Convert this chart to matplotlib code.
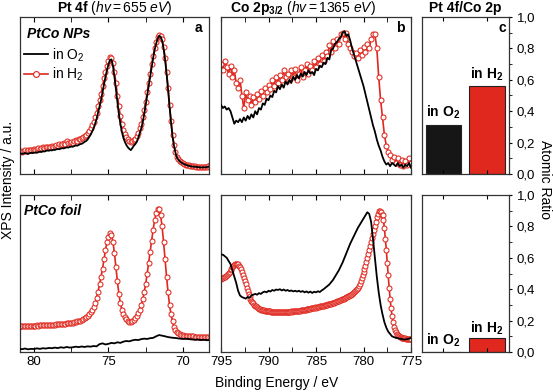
import numpy as np
import matplotlib
matplotlib.use('Agg')
import matplotlib.pyplot as plt
from matplotlib.ticker import MultipleLocator, FuncFormatter
from matplotlib.lines import Line2D

plt.rcParams['font.family'] = ['Liberation Sans', 'DejaVu Sans']
plt.rcParams['mathtext.fontset'] = 'custom'
plt.rcParams['mathtext.rm'] = 'Liberation Sans'
plt.rcParams['mathtext.it'] = 'Liberation Sans:italic'
plt.rcParams['mathtext.bf'] = 'Liberation Sans:bold'

# binding energy grids (eV)
be_pt = np.round(np.linspace(81.0, 68.2, 129), 2)
be_pt_coarse = np.round(np.linspace(81.0, 68.2, 65), 2)
be_co = np.round(np.linspace(795.0, 775.0, 101), 2)
be_co_fine = np.round(np.linspace(795.0, 775.0, 201), 2)

# Pt 4f, PtCo NPs (normalised intensity)
pt_nps_o2 = [
    0.13, 0.132, 0.128, 0.13, 0.134, 0.13, 0.128, 0.132, 0.135, 0.133,
    0.136, 0.138, 0.135, 0.14, 0.142, 0.14, 0.145, 0.143, 0.147, 0.15,
    0.148, 0.152, 0.15, 0.155, 0.153, 0.157, 0.16, 0.158, 0.162, 0.165,
    0.163, 0.167, 0.17, 0.168, 0.172, 0.175, 0.173, 0.178, 0.182, 0.18,
    0.185, 0.19, 0.192, 0.198, 0.205, 0.21, 0.22, 0.235, 0.25, 0.27,
    0.29, 0.32, 0.35, 0.39, 0.43, 0.47, 0.52, 0.57, 0.62, 0.66,
    0.7, 0.725, 0.73, 0.69, 0.62, 0.54, 0.46, 0.38, 0.32, 0.27,
    0.23, 0.205, 0.185, 0.17, 0.16, 0.152, 0.165, 0.18, 0.19, 0.205,
    0.23, 0.26, 0.29, 0.33, 0.38, 0.44, 0.5, 0.56, 0.62, 0.68,
    0.74, 0.79, 0.83, 0.86, 0.88, 0.875, 0.85, 0.8, 0.73, 0.64,
    0.54, 0.43, 0.33, 0.24, 0.18, 0.135, 0.105, 0.09, 0.08, 0.072,
    0.067, 0.062, 0.058, 0.055, 0.052, 0.05, 0.048, 0.047, 0.046, 0.045,
    0.044, 0.043, 0.042, 0.042, 0.043, 0.042, 0.044, 0.046, 0.05]
pt_nps_h2 = [
    0.14, 0.145, 0.14, 0.145, 0.15, 0.145, 0.15, 0.155, 0.15, 0.155,
    0.16, 0.155, 0.16, 0.165, 0.16, 0.165, 0.17, 0.165, 0.17, 0.175,
    0.17, 0.175, 0.18, 0.175, 0.18, 0.185, 0.18, 0.19, 0.185, 0.19,
    0.195, 0.19, 0.21, 0.195, 0.2, 0.205, 0.2, 0.21, 0.215, 0.21,
    0.22, 0.225, 0.23, 0.235, 0.24, 0.25, 0.26, 0.275, 0.29, 0.31,
    0.33, 0.36, 0.39, 0.43, 0.47, 0.51, 0.56, 0.61, 0.65, 0.69,
    0.72, 0.745, 0.74, 0.71, 0.65, 0.58, 0.5, 0.43, 0.37, 0.32,
    0.28, 0.255, 0.235, 0.22, 0.21, 0.205, 0.21, 0.215, 0.225, 0.24,
    0.26, 0.29, 0.32, 0.36, 0.41, 0.46, 0.52, 0.58, 0.64, 0.7,
    0.75, 0.8, 0.84, 0.87, 0.885, 0.88, 0.86, 0.81, 0.74, 0.65,
    0.55, 0.44, 0.34, 0.25, 0.185, 0.14, 0.11, 0.095, 0.085, 0.075,
    0.07, 0.065, 0.06, 0.058, 0.055, 0.052, 0.05, 0.05, 0.048, 0.047,
    0.045, 0.045, 0.044, 0.043, 0.045, 0.044, 0.046, 0.05, 0.06]

# Pt 4f, PtCo foil
pt_foil_o2 = [
    0.02, 0.018, 0.022, 0.017, 0.02, 0.019, 0.023, 0.02, 0.024, 0.022,
    0.026, 0.024, 0.028, 0.025, 0.03, 0.027, 0.032, 0.028, 0.03, 0.034,
    0.031, 0.035, 0.032, 0.036, 0.034, 0.038, 0.036, 0.05, 0.055, 0.048,
    0.052, 0.058, 0.055, 0.062, 0.058, 0.066, 0.07, 0.068, 0.074, 0.078,
    0.076, 0.082, 0.085, 0.083, 0.088, 0.09, 0.1, 0.108, 0.104, 0.1,
    0.095, 0.092, 0.09, 0.088, 0.085, 0.083, 0.085, 0.082, 0.08, 0.078,
    0.08, 0.076, 0.078, 0.075, 0.076]
pt_foil_h2 = [
    0.162, 0.165, 0.163, 0.165, 0.164, 0.166, 0.165, 0.167, 0.166, 0.168,
    0.167, 0.168, 0.17, 0.168, 0.17, 0.171, 0.17, 0.172, 0.171, 0.173,
    0.172, 0.174, 0.173, 0.175, 0.174, 0.176, 0.177, 0.176, 0.178, 0.18,
    0.179, 0.181, 0.183, 0.182, 0.185, 0.187, 0.186, 0.19, 0.192, 0.195,
    0.198, 0.2, 0.205, 0.21, 0.215, 0.222, 0.23, 0.24, 0.252, 0.265,
    0.285, 0.31, 0.345, 0.385, 0.43, 0.48, 0.53, 0.59, 0.65, 0.7,
    0.735, 0.755, 0.745, 0.7, 0.63, 0.54, 0.45, 0.37, 0.31, 0.27,
    0.245, 0.225, 0.21, 0.2, 0.193, 0.192, 0.196, 0.203, 0.215, 0.23,
    0.25, 0.27, 0.3, 0.335, 0.38, 0.435, 0.5, 0.57, 0.64, 0.71,
    0.78, 0.84, 0.885, 0.91, 0.91, 0.87, 0.8, 0.7, 0.59, 0.48,
    0.38, 0.3, 0.24, 0.195, 0.16, 0.14, 0.128, 0.12, 0.114, 0.11,
    0.107, 0.105, 0.104, 0.102, 0.101, 0.1, 0.1, 0.099, 0.098, 0.098,
    0.097, 0.097, 0.096, 0.096, 0.095, 0.095, 0.096, 0.094, 0.095]

# Co 2p3/2, PtCo NPs
co_nps_o2 = [
    0.44, 0.42, 0.43, 0.41, 0.42, 0.4, 0.36, 0.32, 0.34, 0.33,
    0.35, 0.33, 0.36, 0.34, 0.37, 0.35, 0.38, 0.36, 0.4, 0.38,
    0.42, 0.41, 0.45, 0.44, 0.48, 0.47, 0.5, 0.49, 0.53, 0.52,
    0.56, 0.54, 0.57, 0.55, 0.59, 0.57, 0.6, 0.58, 0.62, 0.6,
    0.63, 0.61, 0.64, 0.62, 0.65, 0.63, 0.66, 0.64, 0.65, 0.63,
    0.67, 0.66, 0.69, 0.68, 0.71, 0.7, 0.74, 0.73, 0.79, 0.8,
    0.83, 0.84, 0.86, 0.87, 0.9, 0.91, 0.88, 0.89, 0.85, 0.8,
    0.76, 0.72, 0.68, 0.64, 0.6, 0.56, 0.51, 0.46, 0.41, 0.36,
    0.31, 0.27, 0.22, 0.18, 0.15, 0.11, 0.08, 0.06, 0.07, 0.05,
    0.07, 0.06, 0.05, 0.07, 0.05, 0.06, 0.04, 0.06, 0.05, 0.07,
    0.04]
co_nps_h2 = [
    0.7, 0.66, 0.72, 0.68, 0.64, 0.69, 0.62, 0.66, 0.58, 0.55,
    0.6, 0.5, 0.42, 0.52, 0.47, 0.5, 0.44, 0.49, 0.46, 0.51,
    0.48, 0.53, 0.5, 0.55, 0.52, 0.57, 0.54, 0.6, 0.56, 0.62,
    0.58, 0.63, 0.6, 0.66, 0.62, 0.64, 0.6, 0.66, 0.62, 0.67,
    0.6, 0.64, 0.68, 0.62, 0.66, 0.7, 0.64, 0.69, 0.66, 0.72,
    0.68, 0.74, 0.7, 0.76, 0.72, 0.78, 0.75, 0.82, 0.78, 0.85,
    0.8, 0.86, 0.83, 0.89, 0.9, 0.86, 0.9, 0.83, 0.8, 0.78,
    0.75, 0.77, 0.74, 0.79, 0.76, 0.81, 0.78, 0.83, 0.8, 0.86,
    0.89, 0.89, 0.8, 0.62, 0.47, 0.36, 0.25, 0.18, 0.14, 0.12,
    0.09, 0.11, 0.07, 0.1, 0.06, 0.09, 0.05, 0.08, 0.06, 0.1,
    0.07]

# Co 2p3/2, PtCo foil
co_foil_o2 = [
    0.62, 0.62, 0.61, 0.6, 0.58, 0.56, 0.52, 0.48, 0.44, 0.39,
    0.36, 0.35, 0.345, 0.34, 0.35, 0.345, 0.36, 0.365, 0.37, 0.365,
    0.375, 0.37, 0.38, 0.385, 0.38, 0.39, 0.385, 0.395, 0.39, 0.398,
    0.395, 0.4, 0.392, 0.398, 0.39, 0.395, 0.388, 0.392, 0.386, 0.39,
    0.385, 0.39, 0.383, 0.388, 0.38, 0.386, 0.378, 0.385, 0.376, 0.384,
    0.38, 0.387, 0.382, 0.392, 0.4, 0.41, 0.42, 0.43, 0.445, 0.46,
    0.48, 0.5, 0.52, 0.545, 0.57, 0.6, 0.63, 0.66, 0.69, 0.715,
    0.74, 0.765, 0.79, 0.81, 0.83, 0.85, 0.87, 0.89, 0.88, 0.83,
    0.72, 0.6, 0.48, 0.38, 0.3, 0.24, 0.19, 0.155, 0.13, 0.115,
    0.1, 0.095, 0.09, 0.088, 0.085, 0.083, 0.08, 0.08, 0.082, 0.085,
    0.09]
co_foil_h2 = [
    0.465, 0.47, 0.472, 0.478, 0.48, 0.487, 0.49, 0.497, 0.503, 0.51,
    0.52, 0.53, 0.54, 0.548, 0.555, 0.56, 0.563, 0.562, 0.558, 0.55,
    0.54, 0.527, 0.51, 0.49, 0.47, 0.45, 0.43, 0.41, 0.39, 0.37,
    0.355, 0.34, 0.328, 0.318, 0.31, 0.302, 0.295, 0.29, 0.285, 0.28,
    0.277, 0.274, 0.27, 0.268, 0.267, 0.265, 0.263, 0.262, 0.261, 0.26,
    0.259, 0.258, 0.258, 0.257, 0.256, 0.257, 0.255, 0.256, 0.254, 0.255,
    0.253, 0.255, 0.254, 0.252, 0.255, 0.253, 0.254, 0.252, 0.256, 0.253,
    0.255, 0.254, 0.257, 0.255, 0.258, 0.256, 0.259, 0.258, 0.26, 0.259,
    0.262, 0.261, 0.264, 0.263, 0.266, 0.265, 0.268, 0.267, 0.27, 0.269,
    0.272, 0.271, 0.274, 0.276, 0.275, 0.278, 0.28, 0.279, 0.282, 0.284,
    0.283, 0.286, 0.288, 0.287, 0.29, 0.292, 0.294, 0.293, 0.296, 0.298,
    0.3, 0.302, 0.301, 0.304, 0.306, 0.308, 0.307, 0.31, 0.313, 0.315,
    0.317, 0.32, 0.322, 0.325, 0.327, 0.33, 0.332, 0.335, 0.338, 0.34,
    0.343, 0.346, 0.349, 0.352, 0.355, 0.358, 0.362, 0.366, 0.37, 0.375,
    0.38, 0.386, 0.392, 0.4, 0.41, 0.42, 0.435, 0.45, 0.47, 0.49,
    0.51, 0.53, 0.55, 0.575, 0.6, 0.625, 0.65, 0.675, 0.7, 0.725,
    0.75, 0.775, 0.8, 0.83, 0.86, 0.88, 0.895, 0.9, 0.89, 0.875,
    0.87, 0.84, 0.79, 0.72, 0.65, 0.57, 0.49, 0.41, 0.34, 0.28,
    0.23, 0.19, 0.16, 0.14, 0.125, 0.115, 0.108, 0.102, 0.098, 0.095,
    0.092, 0.09, 0.088, 0.087, 0.086, 0.085, 0.084, 0.083, 0.082, 0.081,
    0.08]

# Pt 4f / Co 2p atomic ratio
ratio_labels = ['in O$_\\mathbf{2}$', 'in H$_\\mathbf{2}$']
ratio_nps = [0.31, 0.56]
ratio_foil = [0.0, 0.087]

RED = '#e0281e'
W, H = 553, 392


def px_axes(x0, y0, x1, y1):
    return fig.add_axes([x0 / W, (H - y1) / H, (x1 - x0) / W, (y1 - y0) / H])


def style_spec(ax, xlim, show_labels):
    ax.set_xlim(*xlim)
    ax.set_ylim(0, 1)
    ax.xaxis.set_major_locator(MultipleLocator(5))
    ax.xaxis.set_minor_locator(MultipleLocator(2.5))
    ax.tick_params(axis='x', which='both', direction='in', top=True, bottom=True,
                   labelbottom=show_labels, labelsize=9.5, pad=3, length=3.5)
    ax.set_yticks([])
    for s in ax.spines.values():
        s.set_linewidth(0.9)
        s.set_color('#333333')


def red_curve(ax, x, y):
    ax.plot(x, y, color=RED, lw=1.2, marker='o', ms=3.6, mfc='white',
            mec=RED, mew=0.75, zorder=2)


def black_curve(ax, x, y):
    ax.plot(x, y, color='black', lw=1.3, zorder=3)


fig = plt.figure(figsize=(W / 100, H / 100), dpi=100)

ax_a1 = px_axes(20, 17, 209, 174)
ax_b1 = px_axes(221, 17, 411, 174)
ax_c1 = px_axes(422, 17, 509, 174)
ax_a2 = px_axes(20, 195, 209, 352)
ax_b2 = px_axes(221, 195, 411, 352)
ax_c2 = px_axes(422, 195, 509, 352)

red_curve(ax_a1, be_pt, pt_nps_h2)
black_curve(ax_a1, be_pt, pt_nps_o2)
red_curve(ax_a2, be_pt, pt_foil_h2)
black_curve(ax_a2, be_pt_coarse, pt_foil_o2)
red_curve(ax_b1, be_co, co_nps_h2)
black_curve(ax_b1, be_co, co_nps_o2)
red_curve(ax_b2, be_co_fine, co_foil_h2)
black_curve(ax_b2, be_co, co_foil_o2)

style_spec(ax_a1, (80.94, 68.25), False)
style_spec(ax_a2, (80.94, 68.25), True)
style_spec(ax_b1, (795, 775), False)
style_spec(ax_b2, (795, 775), True)

comma = FuncFormatter(lambda v, p: f'{v:.1f}'.replace('.', ','))
for ax, vals, ylab in [(ax_c1, ratio_nps, [0.365, 0.605]),
                       (ax_c2, ratio_foil, [0.045, 0.123])]:
    ax.bar([0, 1], vals, width=0.8, color=['#161616', RED],
           edgecolor='#222222', linewidth=0.8)
    ax.set_xlim(-0.48, 1.5)
    ax.set_ylim(0, 1)
    ax.set_xticks([0, 1])
    ax.set_xticklabels([])
    ax.yaxis.set_major_locator(MultipleLocator(0.2))
    ax.yaxis.set_minor_locator(MultipleLocator(0.1))
    ax.yaxis.set_major_formatter(comma)
    ax.yaxis.tick_right()
    ax.tick_params(axis='x', which='both', direction='in', top=True, bottom=True, length=3)
    ax.tick_params(axis='y', which='both', direction='out', right=True, left=False,
                   labelsize=9.5, length=2.5, pad=3)
    for s in ax.spines.values():
        s.set_linewidth(0.9)
        s.set_color('#333333')
    for i in range(2):
        ax.text(i, ylab[i], ratio_labels[i], ha='center', va='baseline',
                fontsize=10, fontweight='bold')

# panel letters and sample names
for ax, letter in [(ax_a1, 'a'), (ax_b1, 'b'), (ax_c1, 'c')]:
    ax.text(0.965, 0.93, letter, transform=ax.transAxes, ha='right', va='center',
            fontsize=10, fontweight='bold')
ax_a1.text(0.035, 0.89, 'PtCo NPs', transform=ax_a1.transAxes, ha='left',
           va='center', fontsize=10, fontweight='bold', style='italic')
ax_a2.text(0.02, 0.9, 'PtCo foil', transform=ax_a2.transAxes, ha='left',
           va='center', fontsize=10, fontweight='bold', style='italic')

handles = [Line2D([], [], color='black', lw=1.3),
           Line2D([], [], color=RED, lw=1.2, marker='o', ms=4.2, mfc='white',
                  mec=RED, mew=0.8)]
ax_a1.legend(handles, ['in O$_2$', 'in H$_2$'], loc='upper left',
             bbox_to_anchor=(0.0, 0.84), frameon=False, fontsize=10,
             handlelength=1.7, handletextpad=0.3, labelspacing=0.15,
             borderaxespad=0.2, borderpad=0.1)

# column titles
fig.text(114.5 / W, 1 - 8 / H, r'$\mathbf{Pt\ 4f}$ ($\mathit{hv=655\ eV}$)',
         ha='center', va='center', fontsize=10)
fig.text(303 / W, 1 - 8 / H, r'$\mathbf{Co\ 2p_{3/2}}$ ($\mathit{hv=1365\ eV}$)',
         ha='center', va='center', fontsize=10)
fig.text(465.5 / W, 1 - 8 / H, 'Pt 4f/Co 2p', ha='center', va='center',
         fontsize=10, fontweight='bold')

fig.text(8 / W, 1 - 180 / H, 'XPS Intensity / a.u.', rotation=90,
         ha='center', va='center', fontsize=10)
fig.text(277 / W, 1 - 383 / H, 'Binding Energy / eV', ha='center',
         va='center', fontsize=10)
fig.text(545 / W, 1 - 180 / H, 'Atomic Ratio', rotation=270,
         ha='center', va='center', fontsize=10)

fig.savefig('out.png', dpi=100)
